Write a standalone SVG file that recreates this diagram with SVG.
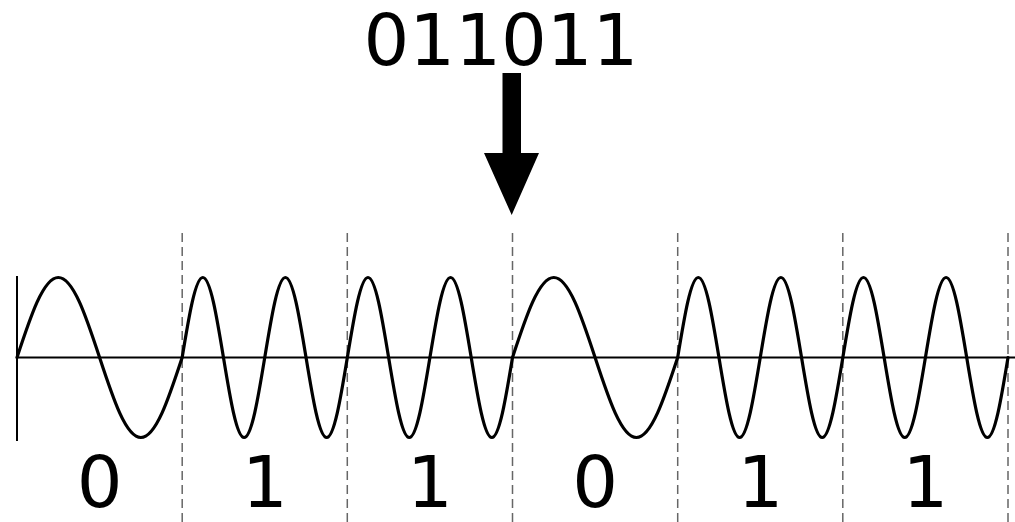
<svg xmlns="http://www.w3.org/2000/svg" width="1015" height="522" viewBox="0 0 1015 522">
<style>
.txt{font-family:"DejaVu Sans","Liberation Sans",sans-serif;font-size:72px;fill:#000;text-anchor:middle}
.div{stroke:#666;stroke-width:1.5;stroke-dasharray:9,5;fill:none}
.axis{stroke:#000;stroke-width:2;fill:none}
.wave{stroke:#000;stroke-width:3.2;fill:none;stroke-linejoin:round;stroke-linecap:round}
</style>
<rect width="1015" height="522" fill="#fff"/>
<g id="input">
<text class="txt" x="501" y="65">011011</text>
</g>
<g id="arrow">
<polygon points="502.5,73 521,73 521,153 539,153 511.7,215 484,153 502.5,153" fill="#000"/>
</g>
<g id="dividers">
<line class="div" x1="182.2" y1="233" x2="182.2" y2="522"/>
<line class="div" x1="347.3" y1="233" x2="347.3" y2="522"/>
<line class="div" x1="512.5" y1="233" x2="512.5" y2="522"/>
<line class="div" x1="677.7" y1="233" x2="677.7" y2="522"/>
<line class="div" x1="842.8" y1="233" x2="842.8" y2="522"/>
<line class="div" x1="1008" y1="233" x2="1008" y2="522"/>
</g>
<g id="axes">
<line class="axis" x1="17" y1="357.5" x2="1015" y2="357.5"/>
<line class="axis" x1="17" y1="276" x2="17" y2="441"/>
</g>
<g id="signal">
<path class="wave" d="M17,357.5
c13.466,-40.983 26.348,-80 41.292,-80 c14.944,0 27.825,39.017 41.292,80 c13.466,40.983 26.348,80 41.292,80 c14.944,0 27.825,-39.017 41.292,-80
c6.733,-40.983 13.174,-80 20.646,-80 c7.472,0 13.913,39.017 20.646,80 c6.733,40.983 13.174,80 20.646,80 c7.472,0 13.913,-39.017 20.646,-80
c6.733,-40.983 13.174,-80 20.646,-80 c7.472,0 13.913,39.017 20.646,80 c6.733,40.983 13.174,80 20.646,80 c7.472,0 13.913,-39.017 20.646,-80
c6.733,-40.983 13.174,-80 20.646,-80 c7.472,0 13.913,39.017 20.646,80 c6.733,40.983 13.174,80 20.646,80 c7.472,0 13.913,-39.017 20.646,-80
c6.733,-40.983 13.174,-80 20.646,-80 c7.472,0 13.913,39.017 20.646,80 c6.733,40.983 13.174,80 20.646,80 c7.472,0 13.913,-39.017 20.646,-80
c13.466,-40.983 26.348,-80 41.292,-80 c14.944,0 27.825,39.017 41.292,80 c13.466,40.983 26.348,80 41.292,80 c14.944,0 27.825,-39.017 41.292,-80
c6.733,-40.983 13.174,-80 20.646,-80 c7.472,0 13.913,39.017 20.646,80 c6.733,40.983 13.174,80 20.646,80 c7.472,0 13.913,-39.017 20.646,-80
c6.733,-40.983 13.174,-80 20.646,-80 c7.472,0 13.913,39.017 20.646,80 c6.733,40.983 13.174,80 20.646,80 c7.472,0 13.913,-39.017 20.646,-80
c6.733,-40.983 13.174,-80 20.646,-80 c7.472,0 13.913,39.017 20.646,80 c6.733,40.983 13.174,80 20.646,80 c7.472,0 13.913,-39.017 20.646,-80
c6.733,-40.983 13.174,-80 20.646,-80 c7.472,0 13.913,39.017 20.646,80 c6.733,40.983 13.174,80 20.646,80 c7.472,0 13.913,-39.017 20.646,-80"/>
</g>
<g id="labels">
<text class="txt" x="99.6" y="507">0</text>
<text class="txt" x="264.8" y="507">1</text>
<text class="txt" x="429.9" y="507">1</text>
<text class="txt" x="595.1" y="507">0</text>
<text class="txt" x="760.3" y="507">1</text>
<text class="txt" x="925.4" y="507">1</text>
</g>
</svg>
